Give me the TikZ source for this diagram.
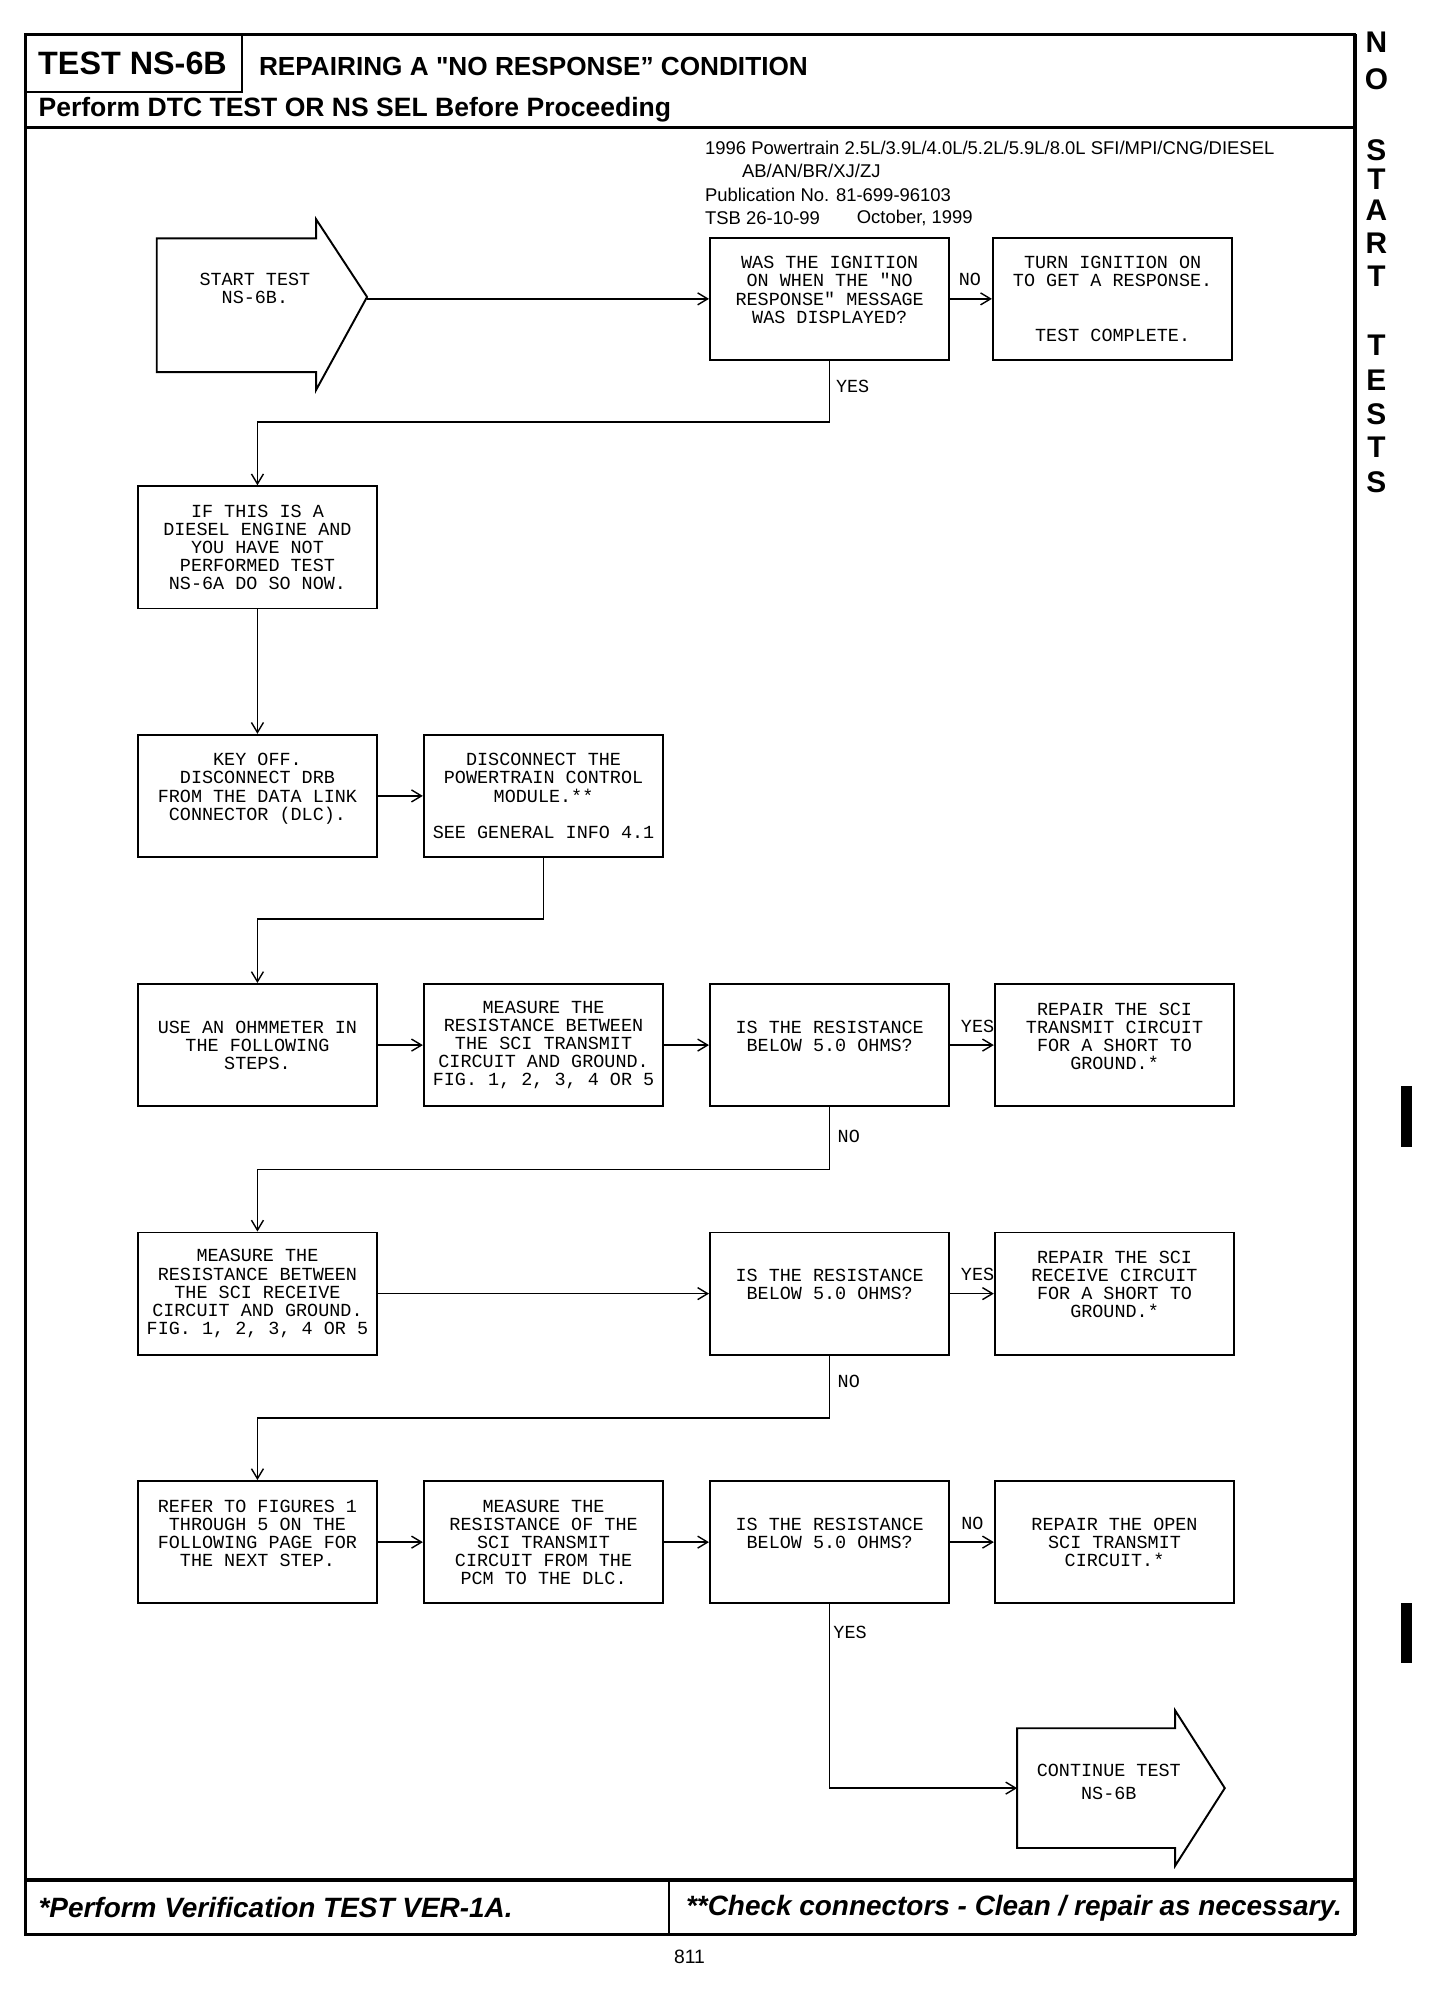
\documentclass[tikz,border=0pt]{standalone}
\usepackage{fontspec}
\setmainfont{Liberation Sans}
\newfontfamily\monofont{Liberation Mono}
\usetikzlibrary{arrows.meta}

\begin{document}
\begin{tikzpicture}[x=0.2549mm,y=-0.2549mm,
    box/.style={draw,line width=1.1pt,minimum width=47.9mm,minimum height=24.45mm,
        inner sep=0pt,align=center,font=\monofont\fontsize{10.5}{10.3}\selectfont},
    lbl/.style={inner sep=0pt,align=center,font=\monofont\fontsize{10.5}{10.3}\selectfont},
    head/.style={anchor=west,inner sep=0pt},
    link/.style={line width=0.8pt,-{Straight Barb[length=2mm,width=2.4mm]}},
    side/.style={inner sep=0pt,font=\bfseries\fontsize{17}{17}\selectfont}]
    \useasboundingbox (0,0) rectangle (291.2mm,-400mm);
    %% Frame
    \draw[line width=1.4pt] (20,27) rectangle (1063,1518);
    \draw[line width=2.4pt] (1063,27) to (1063,1518);
    \draw[line width=1.2pt] (190,27) to (190,72) to (20,72);
    \draw[line width=2.2pt] (20,100) to (1063,100);
    \draw[line width=2.2pt] (20,1475) to (1063,1475);
    \draw[line width=1.4pt] (525,1475) to (525,1518);
    %% Heading
    \node[anchor=center,font=\bfseries\fontsize{18.4}{20}\selectfont] (testno) at (104,50) {TEST NS-6B};
    \node[head,font=\bfseries\fontsize{14.9}{16}\selectfont] (title) at (203,52) {REPAIRING A \textquotedbl NO RESPONSE'' CONDITION};
    \node[head,font=\bfseries\fontsize{15.1}{16}\selectfont] (before) at (30,86) {Perform DTC TEST OR NS SEL Before Proceeding};
    \node[head,font=\fontsize{10.5}{12}\selectfont] (pub1) at (553,116) {1996 Powertrain 2.5L/3.9L/4.0L/5.2L/5.9L/8.0L SFI/MPI/CNG/DIESEL};
    \node[head,font=\fontsize{10.5}{12}\selectfont] (pub2) at (582,134) {AB/AN/BR/XJ/ZJ};
    \node[head,font=\fontsize{10.5}{12}\selectfont] (pub3) at (553,153) {Publication No. 81-699-96103};
    \node[head,font=\fontsize{10.5}{12}\selectfont] (pub4) at (553,171) {TSB 26-10-99};
    \node[head,font=\fontsize{10.5}{12}\selectfont] (pub5) at (672,171) {October, 1999};
    %% Side tab
    \node[side] (sn1) at (1080,33) {N};
    \node[side] (so1) at (1080,62) {O};
    \node[side] (ss1) at (1080,118) {S};
    \node[side] (st1) at (1080,141) {T};
    \node[side] (sa1) at (1080,165) {A};
    \node[side] (sr1) at (1080,191) {R};
    \node[side] (st2) at (1080,217) {T};
    \node[side] (st3) at (1080,271) {T};
    \node[side] (se1) at (1080,298) {E};
    \node[side] (ss2) at (1080,325) {S};
    \node[side] (st4) at (1080,351) {T};
    \node[side] (ss3) at (1080,378) {S};
    \fill (1099,852) rectangle (1108,900);
    \fill (1099,1258) rectangle (1108,1305);
    %% Start arrow
    \draw[line width=1.1pt] (123,187) to (248,187) to (248,172) to (288,233)
        to (248,306) to (248,292) to (123,292) -- cycle;
    \node[lbl] (start) at (200,226.5) {START TEST\\NS-6B.};
    \coordinate (starttip) at (288,234.5);
    %% Row 1
    \node[box] (q1) at (651,234.5) {WAS THE IGNITION\\ON WHEN THE "NO\\RESPONSE" MESSAGE\\WAS DISPLAYED?\\~};
    \node[box] (a1) at (873,234.5) {TURN IGNITION ON\\TO GET A RESPONSE.\\~\\~\\TEST COMPLETE.};
    \draw[link] (starttip) to (q1.west);
    \draw[link] (q1.east) to (a1.west);
    \node[lbl] (no1) at (761,219) {NO};
    %% Row 2
    \node[box] (b1) at (202,429.5) {IF THIS IS A\\DIESEL ENGINE AND\\YOU HAVE NOT\\PERFORMED TEST\\NS-6A DO SO NOW.};
    \draw[link] (q1.south) -- ++(0,48) -| (b1.north);
    \node[lbl] (yes1) at (669,303) {YES};
    %% Row 3
    \node[box] (c1) at (202,624.5) {KEY OFF.\\DISCONNECT DRB\\FROM THE DATA LINK\\CONNECTOR (DLC).\\~};
    \node[box] (c2) at (426.5,624.5) {DISCONNECT THE\\POWERTRAIN CONTROL\\MODULE.**\\~\\SEE GENERAL INFO 4.1};
    \draw[link] (b1.south) to (c1.north);
    \draw[link] (c1.east) to (c2.west);
    %% Row 4
    \node[box] (d1) at (202,820) {USE AN OHMMETER IN\\THE FOLLOWING\\STEPS.};
    \node[box] (d2) at (426.5,820) {MEASURE THE\\RESISTANCE BETWEEN\\THE SCI TRANSMIT\\CIRCUIT AND GROUND.\\FIG. 1, 2, 3, 4 OR 5};
    \node[box] (d3) at (651,820) {IS THE RESISTANCE\\BELOW 5.0 OHMS?\\~};
    \node[box] (d4) at (874.5,820) {REPAIR THE SCI\\TRANSMIT CIRCUIT\\FOR A SHORT TO\\GROUND.*\\~};
    \draw[link] (c2.south) -- ++(0,48) -| (d1.north);
    \draw[link] (d1.east) to (d2.west);
    \draw[link] (d2.east) to (d3.west);
    \draw[link] (d3.east) to (d4.west);
    \node[lbl] (yes2) at (767,805) {YES};
    %% Row 5
    \node[box] (e1) at (202,1015) {MEASURE THE\\RESISTANCE BETWEEN\\THE SCI RECEIVE\\CIRCUIT AND GROUND.\\FIG. 1, 2, 3, 4 OR 5};
    \node[box] (e3) at (651,1015) {IS THE RESISTANCE\\BELOW 5.0 OHMS?\\~};
    \node[box] (e4) at (874.5,1015) {REPAIR THE SCI\\RECEIVE CIRCUIT\\FOR A SHORT TO\\GROUND.*\\~};
    \draw[link] (d3.south) -- ++(0,49) -| (e1.north);
    \node[lbl] (no2) at (666,892) {NO};
    \draw[link] (e1.east) to (e3.west);
    \draw[link] (e3.east) to (e4.west);
    \node[lbl] (yes3) at (767,1000) {YES};
    %% Row 6
    \node[box] (f1) at (202,1210) {REFER TO FIGURES 1\\THROUGH 5 ON THE\\FOLLOWING PAGE FOR\\THE NEXT STEP.\\~};
    \node[box] (f2) at (426.5,1210) {MEASURE THE\\RESISTANCE OF THE\\SCI TRANSMIT\\CIRCUIT FROM THE\\PCM TO THE DLC.};
    \node[box] (f3) at (651,1210) {IS THE RESISTANCE\\BELOW 5.0 OHMS?\\~};
    \node[box] (f4) at (874.5,1210) {REPAIR THE OPEN\\SCI TRANSMIT\\CIRCUIT.*};
    \draw[link] (e3.south) -- ++(0,49) -| (f1.north);
    \node[lbl] (no3) at (666,1084) {NO};
    \draw[link] (f1.east) to (f2.west);
    \draw[link] (f2.east) to (f3.west);
    \draw[link] (f3.east) to (f4.west);
    \node[lbl] (no4) at (763,1195) {NO};
    %% Continue arrow
    \draw[line width=1.1pt] (798,1356) to (922,1356) to (922,1342) to (961,1403)
        to (922,1464) to (922,1450) to (798,1450) -- cycle;
    \node[lbl] (cont) at (870,1398) {CONTINUE TEST\\[3pt]NS-6B};
    \coordinate (conttail) at (798,1403);
    \draw[link] (f3.south) |- (conttail);
    \node[lbl] (yes4) at (667,1281) {YES};
    %% Footer
    \node[head,font=\bfseries\itshape\fontsize{15.9}{18}\selectfont] (verify) at (30,1497) {*Perform Verification TEST VER-1A.};
    \node[head,font=\bfseries\itshape\fontsize{15.9}{18}\selectfont] (check) at (538,1497) {**Check connectors - Clean / repair as necessary.};
    \node[font=\fontsize{11}{12}\selectfont,inner sep=0pt] (page) at (541,1535) {811};
\end{tikzpicture}
\end{document}
